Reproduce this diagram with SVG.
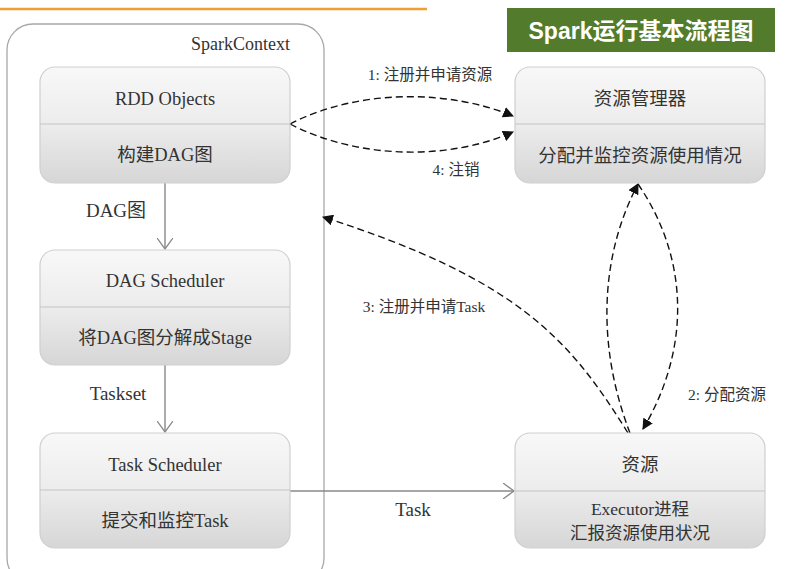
<svg xmlns="http://www.w3.org/2000/svg" width="793" height="569" viewBox="0 0 793 569">
<defs>
<linearGradient id="boxg" x1="0" y1="0" x2="0" y2="1">
<stop offset="0" stop-color="#f8f8f8"/>
<stop offset="0.5" stop-color="#ececec"/>
<stop offset="1" stop-color="#d6d6d6"/>
</linearGradient>
<marker id="tri" viewBox="0 0 10 10" refX="9" refY="5" markerWidth="11" markerHeight="11" markerUnits="userSpaceOnUse" orient="auto">
<path d="M0,0 L10,5 L0,10 z" fill="#111"/>
</marker>
<marker id="open" viewBox="0 0 12 16" refX="11" refY="8" markerWidth="12" markerHeight="16" markerUnits="userSpaceOnUse" orient="auto">
<path d="M0,0 L11,8 L0,16" fill="none" stroke="#888" stroke-width="1.3"/>
</marker>
</defs>
<style>
.box{fill:url(#boxg);stroke:#cfcfcf;stroke-width:1.2}
.div{stroke:#c4c4c4;stroke-width:1.2}
.t{font-family:"Liberation Serif","Noto Sans CJK SC",serif;fill:#333;text-anchor:middle}
.big{font-size:18.5px}
.sm{font-size:15.5px}
.mid{font-size:19px}
.dash{fill:none;stroke:#111;stroke-width:1.4;stroke-dasharray:7,4;marker-end:url(#tri)}
.solid{fill:none;stroke:#888;stroke-width:1.4;marker-end:url(#open)}
</style>
<rect width="793" height="569" fill="#ffffff"/>
<line x1="0" y1="9" x2="427" y2="9" stroke="#f0a030" stroke-width="2.5"/>
<g id="title">
<rect x="507" y="8" width="268" height="44" fill="#527c2c"/>
<text x="641" y="39" font-family="'Liberation Sans','Noto Sans CJK SC',sans-serif" font-weight="bold" font-size="23" fill="#ffffff" text-anchor="middle">Spark运行基本流程图</text>
</g>
<g id="sparkcontext">
<rect x="7" y="24" width="317" height="560" rx="26" fill="none" stroke="#a8a8a8" stroke-width="1.3"/>
<text class="t" x="290" y="50" font-size="18" style="text-anchor:end">SparkContext</text>
</g>
<g id="connectors">
<line class="solid" x1="165" y1="183" x2="165" y2="249"/>
<line class="solid" x1="165" y1="365" x2="165" y2="432"/>
<line class="solid" x1="290" y1="491" x2="514" y2="491"/>
<path class="dash" d="M290,124 C360,88 450,90 513,116"/>
<path class="dash" d="M290,124 C360,160 450,160 513,132"/>
<path class="dash" d="M628,433 C570,340 520,280 323,217"/>
<path class="dash" d="M630,433 C598,350 598,260 638,184"/>
<path class="dash" d="M638,184 C690,260 690,350 643,429"/>
<text class="t sm" x="430" y="80">1: 注册并申请资源</text>
<text class="t sm" x="456" y="175">4: 注销</text>
<text class="t sm" x="424" y="312">3: 注册并申请Task</text>
<text class="t sm" x="727" y="400">2: 分配资源</text>
<text class="t mid" x="116" y="217">DAG图</text>
<text class="t mid" x="118" y="400">Taskset</text>
<text class="t mid" x="413" y="516">Task</text>
</g>
<g id="rdd">
<rect class="box" x="40" y="67" width="250" height="116" rx="15"/>
<line class="div" x1="40" y1="124" x2="290" y2="124"/>
<text class="t big" x="165" y="105">RDD Objects</text>
<text class="t big" x="165" y="161">构建DAG图</text>
</g>
<g id="dagscheduler">
<rect class="box" x="40" y="250" width="250" height="115" rx="15"/>
<line class="div" x1="40" y1="307" x2="290" y2="307"/>
<text class="t big" x="165" y="287">DAG Scheduler</text>
<text class="t big" x="165" y="344">将DAG图分解成Stage</text>
</g>
<g id="taskscheduler">
<rect class="box" x="40" y="433" width="250" height="115" rx="15"/>
<line class="div" x1="40" y1="490" x2="290" y2="490"/>
<text class="t big" x="165" y="471">Task Scheduler</text>
<text class="t big" x="165" y="527">提交和监控Task</text>
</g>
<g id="resourcemanager">
<rect class="box" x="515" y="67" width="250" height="116" rx="15"/>
<line class="div" x1="515" y1="124" x2="765" y2="124"/>
<text class="t big" x="640" y="105">资源管理器</text>
<text class="t big" x="640" y="162">分配并监控资源使用情况</text>
</g>
<g id="resource">
<rect class="box" x="515" y="433" width="250" height="115" rx="15"/>
<line class="div" x1="515" y1="491" x2="765" y2="491"/>
<text class="t big" x="640" y="471">资源</text>
<text class="t" x="640" y="515" font-size="17.5">Executor进程</text>
<text class="t" x="640" y="539" font-size="17.5">汇报资源使用状况</text>
</g>
</svg>
